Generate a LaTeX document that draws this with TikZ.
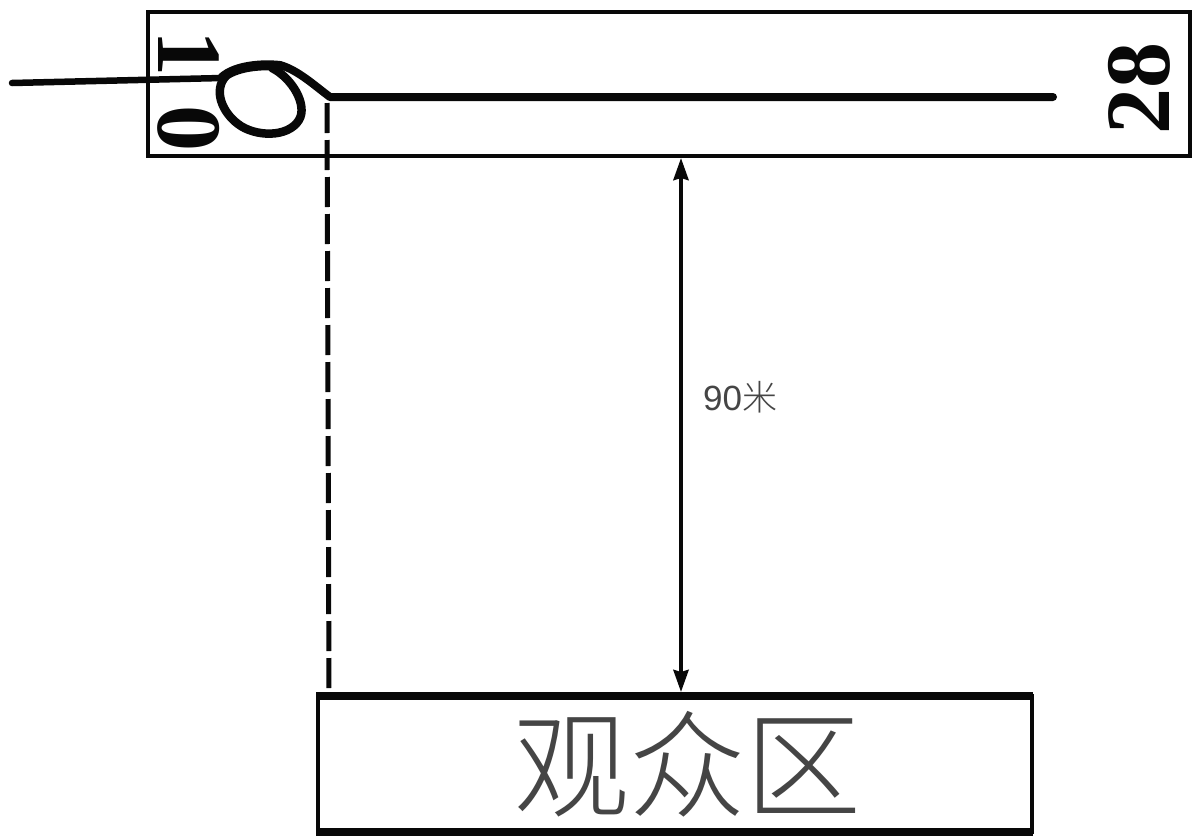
\documentclass[tikz,border=0pt]{standalone}
\usepackage{fontspec}
\setmainfont{Liberation Serif}
\newfontfamily\labelsans{Liberation Sans}
\newfontfamily\cjkl[UprightFont={* Light}]{Noto Sans CJK SC}
\usetikzlibrary{arrows.meta}
\definecolor{ink}{gray}{0.03}
\definecolor{lab}{gray}{0.27}
\tikzset{
  frame/.style={draw=ink,line width=4pt,line cap=round},
  thickframe/.style={draw=ink,line width=8pt},
  sideframe/.style={draw=ink,line width=4.5pt},
  route/.style={draw=ink,line width=8pt,line cap=round,line join=round},
  dimline/.style={draw=ink,line width=4pt,{Stealth[length=22pt,width=15pt,inset=2pt]}-{Stealth[length=22pt,width=15pt,inset=2pt]}},
  guide/.style={draw=ink,line width=5pt,dash pattern=on 30pt off 7pt},
  digits/.style={font=\bfseries\fontsize{92}{92}\selectfont,text=ink,inner sep=0pt},
}
\begin{document}
\begin{tikzpicture}[x=1pt,y=-1pt]
\useasboundingbox (0,0) rectangle (1192,839);
\fill[white] (0,0) rectangle (1192,839);
\coordinate (boxtl) at (148,12);
\coordinate (boxbr) at (1190,156);
\draw[frame] (boxtl) rectangle (boxbr);
\node[digits,rotate=-90] (ten) at (189,91) {1\hspace{30pt}0};
\node[digits,rotate=90] (twoeight) at (1139,88) {28};
\coordinate (start) at (12,83);
\coordinate (finish) at (1053,97);
\coordinate (kink) at (330,97);
\coordinate (bulge) at (222,78);
\draw[route,line width=6.5pt] (start) -- (bulge);
\draw[route,line width=10pt] (bulge)
  .. controls (235,66) and (262,64) .. (280,66);
\draw[route] (280,65)
  .. controls (298,70) and (315,86) .. (kink) -- (finish);
\draw[route,line width=8.5pt] (272,68)
  .. controls (292,78) and (308,105) .. (299,120)
  .. controls (288,138) and (255,137) .. (238,124)
  .. controls (222,112) and (213,90) .. (226,76);
\coordinate (guidetop) at (327,103);
\coordinate (guidebot) at (329,690);
\draw[guide] (guidetop) -- (guidebot);
\draw[sideframe] (318,694) -- (318,834);
\draw[sideframe] (1032,694) -- (1032,834);
\draw[thickframe] (316,696) -- (1033,696);
\draw[thickframe] (316,832) -- (1033,832);
\node[font=\cjkl\fontsize{116}{116}\selectfont,text=lab,inner sep=0pt] (aud) at (687,764) {观众区};
\coordinate (dimtop) at (681,158);
\coordinate (dimbot) at (681,692);
\draw[dimline] (dimtop) -- (dimbot);
\node[font=\labelsans\fontsize{35}{35}\selectfont,text=lab,inner sep=0pt,anchor=west] (dist) at (703,397) {90\cjkl 米};
\end{tikzpicture}
\end{document}
